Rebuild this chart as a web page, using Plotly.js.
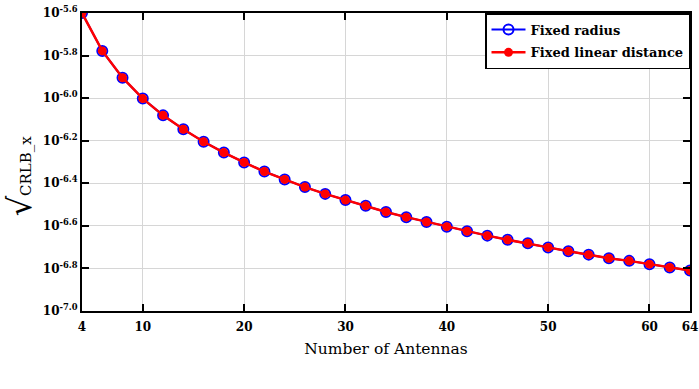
<!DOCTYPE html>
<html>
<head>
<meta charset="utf-8">
<script src="https://cdn.plot.ly/plotly-3.0.1.min.js"></script>
<style>
  body { margin: 0; background: #fff; }
  #plotArea { width: 699px; height: 389px; }
</style>
</head>
<body>
<div id="plotArea"></div>
<script>
// number of antennas
var antennas = [4, 6, 8, 10, 12, 14, 16, 18, 20, 22, 24, 26, 28, 30, 32, 34,
  36, 38, 40, 42, 44, 46, 48, 50, 52, 54, 56, 58, 60, 62, 64];

// sqrt(CRLB_x)
var fixedRadius = [2.512e-6, 1.667e-6, 1.247e-6, 9.95e-7, 8.30e-7, 7.14e-7, 6.24e-7,
  5.55e-7, 4.99e-7, 4.52e-7, 4.15e-7, 3.82e-7, 3.55e-7, 3.32e-7, 3.12e-7, 2.92e-7,
  2.76e-7, 2.62e-7, 2.49e-7, 2.37e-7, 2.26e-7, 2.16e-7, 2.08e-7, 1.99e-7, 1.91e-7,
  1.84e-7, 1.77e-7, 1.72e-7, 1.66e-7, 1.60e-7, 1.55e-7];
var fixedLinear = [2.512e-6, 1.667e-6, 1.247e-6, 9.95e-7, 8.30e-7, 7.14e-7, 6.24e-7,
  5.55e-7, 4.99e-7, 4.52e-7, 4.15e-7, 3.82e-7, 3.55e-7, 3.32e-7, 3.12e-7, 2.92e-7,
  2.76e-7, 2.62e-7, 2.49e-7, 2.37e-7, 2.26e-7, 2.16e-7, 2.08e-7, 1.99e-7, 1.91e-7,
  1.84e-7, 1.77e-7, 1.72e-7, 1.66e-7, 1.60e-7, 1.55e-7];

var xTicks = [4, 10, 20, 30, 40, 50, 60, 64];
var yExps = ["-5.6", "-5.8", "-6.0", "-6.2", "-6.4", "-6.6", "-6.8", "-7.0"];
var yTicks = yExps.map(e => Math.pow(10, parseFloat(e)));
var yText = yExps.map(e => "10<sup>" + e + "</sup>");

var serif = "DejaVu Serif";

var trace1 = {
  x: antennas,
  y: fixedRadius,
  name: "Fixed radius",
  legendgroup: "a",
  type: "scatter",
  mode: "lines+markers",
  line: {color: "#0000ff", width: 2},
  marker: {symbol: "circle-open", size: 10, color: "#0000ff", line: {width: 2, color: "#0000ff"}}
};
var trace2 = {
  x: antennas,
  y: fixedLinear,
  name: "Fixed linear distance",
  legendgroup: "b",
  type: "scatter",
  mode: "lines+markers",
  line: {color: "#ff0000", width: 2.5},
  marker: {symbol: "circle", size: 9, color: "#ff0000"}
};

var axisStyle = {
  showline: true, linecolor: "#000", linewidth: 2, mirror: "allticks",
  ticks: "inside", ticklen: 7, tickwidth: 1.5, tickcolor: "#000",
  showgrid: true, gridcolor: "#d6d6d6", gridwidth: 1.2, zeroline: false,
  tickfont: {family: serif, size: 12, color: "#000", weight: "bold"}
};

var layout = {
  width: 699, height: 389,
  margin: {l: 82, r: 9, t: 13, b: 78},
  paper_bgcolor: "#fff", plot_bgcolor: "#fff",
  showlegend: true,
  xaxis: Object.assign({}, axisStyle, {
    range: [4, 64], tickvals: xTicks, ticktext: xTicks.map(String),
    ticklabelstandoff: 4, ticklabeloverflow: "allow",
    title: {text: "Number of Antennas", font: {family: serif, size: 15.5, color: "#000"}, standoff: 10}
  }),
  yaxis: Object.assign({}, axisStyle, {
    type: "log", range: [-7, -5.6], tickvals: yTicks, ticktext: yText,
    title: {text: "<span style='font-size:32px'>√</span><span style='font-size:15px'>CRLB_x\u00a0\u00a0\u00a0\u00a0\u00a0\u00a0</span>",
      font: {family: serif, size: 15, color: "#000"}, standoff: 8}
  }),
  legend: {
    x: 1, xanchor: "right", y: 1, yanchor: "top",
    bgcolor: "#fff", bordercolor: "#000", borderwidth: 1.5,
    font: {family: serif, size: 13, color: "#000", weight: "bold"},
    traceorder: "grouped", tracegroupgap: 3, itemwidth: 34
  }
};

Plotly.newPlot("plotArea", [trace1, trace2], layout, {displayModeBar: false});
</script>
</body>
</html>
